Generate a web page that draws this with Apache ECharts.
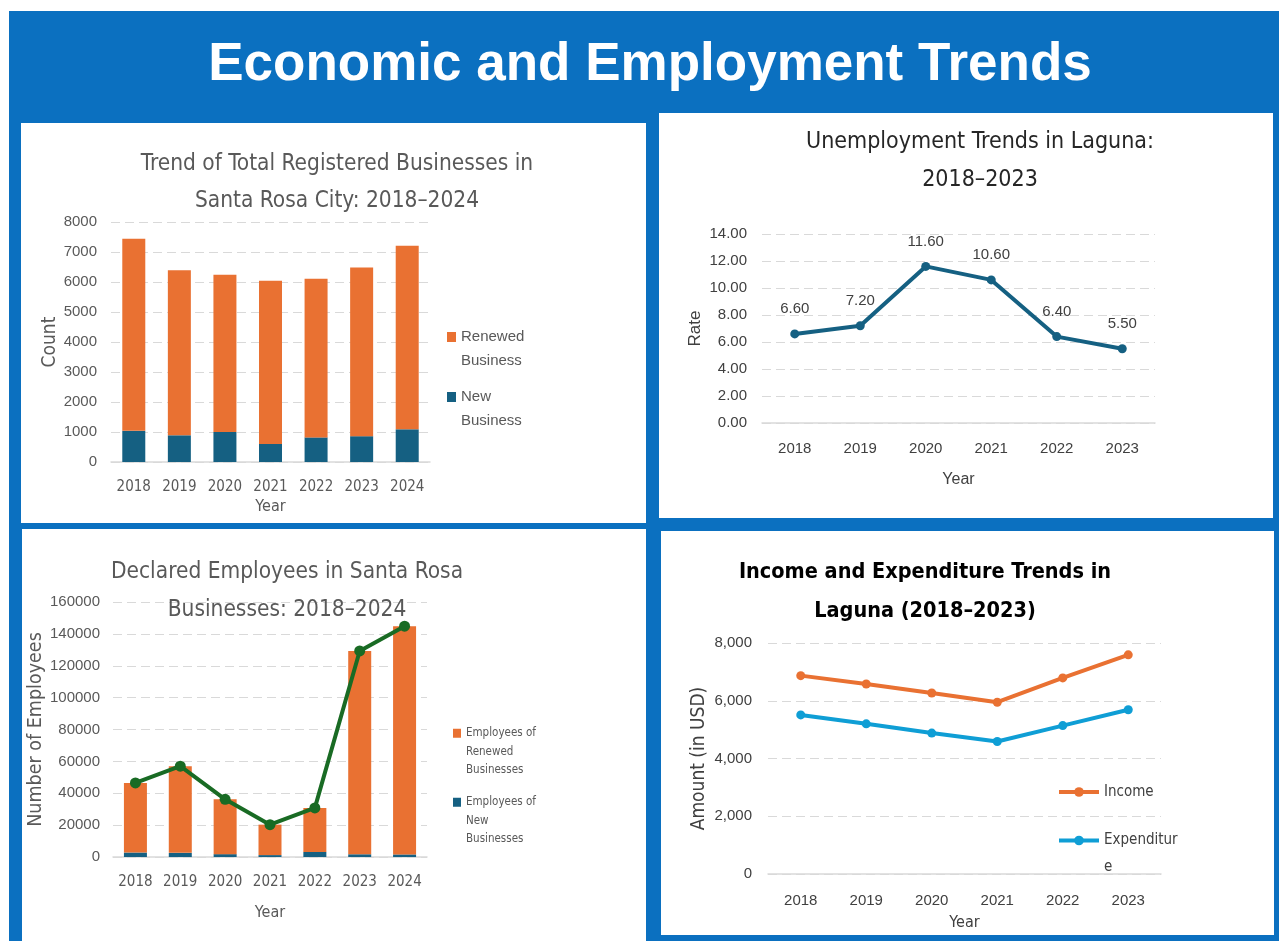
<!DOCTYPE html>
<html>
<head>
<meta charset="utf-8">
<script src="https://cdn.jsdelivr.net/npm/echarts@6/dist/echarts.min.js"></script>
<style>
  body { margin: 0; background: #ffffff; }
  #page { position: relative; width: 1279px; height: 941px; overflow: hidden; }
  .bg { position: absolute; left: 9px; top: 11px; width: 1270px; height: 930px; background: #0B70C0; }
  .panel { position: absolute; background: #ffffff; }
  #main { position: absolute; left: 0; top: 0; width: 1279px; height: 941px; }
</style>
</head>
<body>
<div id="page">
  <div class="bg"></div>
  <div class="panel" style="left:21px;top:123px;width:625px;height:400px;"></div>
  <div class="panel" style="left:659px;top:113px;width:614px;height:405px;"></div>
  <div class="panel" style="left:22px;top:529px;width:624px;height:412px;"></div>
  <div class="panel" style="left:661px;top:531px;width:613px;height:404px;"></div>
  <div id="main"></div>
</div>
<script>
// chart values
var years7 = ['2018', '2019', '2020', '2021', '2022', '2023', '2024'];
var years6 = ['2018', '2019', '2020', '2021', '2022', '2023'];

var newBiz = [1040, 890, 1000, 600, 820, 860, 1090];
var renewedBiz = [6400, 5500, 5240, 5440, 5290, 5620, 6120];

var unemployment = [6.6, 7.2, 11.6, 10.6, 6.4, 5.5];

var newEmp = [2800, 2600, 1800, 1200, 3200, 1700, 1600];
var renewedEmp = [43700, 54400, 34400, 19100, 27600, 127600, 143200];
var totalEmp = [46500, 57000, 36200, 20300, 30800, 129300, 144800];

var income = [6870, 6580, 6270, 5950, 6790, 7590];
var expenditure = [5510, 5200, 4880, 4590, 5140, 5690];

var NARROW = '"DejaVu Sans Condensed", "Liberation Sans Narrow", sans-serif';
var REG = '"Liberation Sans", Arial, sans-serif';
var ORANGE = '#E97132';
var TEAL = '#156082';
var GREEN = '#196B24';
var SKY = '#0F9ED5';

function splitLine() {
    return {show: true, lineStyle: {color: '#D9D9D9', type: [9, 5], width: 1}};
}
function baseLine() {
    return {show: true, lineStyle: {color: '#D9D9D9', width: 1.5}};
}
function plain(v) {
    return String(v);
}

var myChart = echarts.init(document.getElementById('main'), null, {renderer: 'canvas'});
var option = {
    backgroundColor: 'transparent',
    animation: false,
    title: [
        {
            text: 'Economic and Employment Trends',
            left: 645, top: 34, textAlign: 'center',
            textStyle: {color: '#ffffff', fontSize: 53, fontWeight: 'bold', fontFamily: REG}
        },
        {
            text: 'Trend of Total Registered Businesses in\nSanta Rosa City: 2018\u20132024',
            left: 332, top: 141, textAlign: 'center',
            textStyle: {color: '#595959', fontSize: 22.5, fontWeight: 'normal', fontFamily: NARROW, lineHeight: 37}
        },
        {
            text: 'Unemployment Trends in Laguna:\n2018\u20132023',
            left: 975, top: 118, textAlign: 'center',
            textStyle: {color: '#262626', fontSize: 23, fontWeight: 'normal', fontFamily: NARROW, lineHeight: 38}
        },
        {
            text: 'Declared Employees in Santa Rosa\nBusinesses: 2018\u20132024',
            left: 282, top: 548, textAlign: 'center',
            textStyle: {color: '#595959', fontSize: 22.5, fontWeight: 'normal', fontFamily: NARROW, lineHeight: 38}
        },
        {
            text: 'Income and Expenditure Trends in\nLaguna (2018\u20132023)',
            left: 920, top: 548, textAlign: 'center',
            textStyle: {color: '#000000', fontSize: 21.5, fontWeight: 'bold', fontFamily: NARROW, lineHeight: 39}
        }
    ],
    legend: [
        {
            data: ['Renewed Business'], left: 447, top: 301, orient: 'vertical', padding: 0,
            icon: 'rect', itemWidth: 9, itemHeight: 10,
            formatter: function () { return ' \nRenewed\nBusiness'; },
            textStyle: {color: '#595959', fontSize: 15, fontFamily: REG, lineHeight: 24}
        },
        {
            data: ['New Business'], left: 447, top: 361, orient: 'vertical', padding: 0,
            icon: 'rect', itemWidth: 9, itemHeight: 10,
            formatter: function () { return ' \nNew\nBusiness'; },
            textStyle: {color: '#595959', fontSize: 15, fontFamily: REG, lineHeight: 24}
        },
        {
            data: ['Employees of Renewed Businesses'], left: 453, top: 687, orient: 'vertical', padding: 0,
            icon: 'rect', itemWidth: 8, itemHeight: 9,
            formatter: function () { return ' \n \nEmployees of\nRenewed\nBusinesses'; },
            textStyle: {color: '#595959', fontSize: 11.5, fontFamily: NARROW, lineHeight: 18.5}
        },
        {
            data: ['Employees of New Businesses'], left: 453, top: 756, orient: 'vertical', padding: 0,
            icon: 'rect', itemWidth: 8, itemHeight: 9,
            formatter: function () { return ' \n \nEmployees of\nNew\nBusinesses'; },
            textStyle: {color: '#595959', fontSize: 11.5, fontFamily: NARROW, lineHeight: 18.5}
        },
        {
            data: ['Income'], left: 1057, top: 782, orient: 'vertical', padding: 0,
            itemWidth: 40, itemHeight: 12, lineStyle: {width: 4},
            textStyle: {color: '#404040', fontSize: 15, fontFamily: NARROW, lineHeight: 20}
        },
        {
            data: ['Expenditure'], left: 1057, top: 800, orient: 'vertical', padding: 0,
            itemWidth: 40, itemHeight: 12, lineStyle: {width: 4},
            formatter: function () { return ' \nExpenditur\ne'; },
            textStyle: {color: '#404040', fontSize: 15, fontFamily: NARROW, lineHeight: 27}
        }
    ],
    grid: [
        {left: 111, top: 222, width: 319, height: 240},
        {left: 762, top: 234, width: 393, height: 189},
        {left: 113, top: 602, width: 314, height: 255},
        {left: 768, top: 643, width: 393, height: 231}
    ],
    xAxis: [
        {
            gridIndex: 0, type: 'category', data: years7,
            name: 'Year', nameLocation: 'middle', nameGap: 37,
            nameTextStyle: {color: '#595959', fontSize: 16, fontFamily: NARROW},
            axisLine: baseLine(), axisTick: {show: false},
            axisLabel: {color: '#595959', fontSize: 15, fontFamily: NARROW, margin: 18, interval: 0}
        },
        {
            gridIndex: 1, type: 'category', data: years6,
            name: 'Year', nameLocation: 'middle', nameGap: 49,
            nameTextStyle: {color: '#404040', fontSize: 16, fontFamily: REG},
            axisLine: baseLine(), axisTick: {show: false},
            axisLabel: {color: '#404040', fontSize: 15, fontFamily: REG, margin: 18}
        },
        {
            gridIndex: 2, type: 'category', data: years7,
            name: 'Year', nameLocation: 'middle', nameGap: 48,
            nameTextStyle: {color: '#595959', fontSize: 16, fontFamily: NARROW},
            axisLine: baseLine(), axisTick: {show: false},
            axisLabel: {color: '#595959', fontSize: 15, fontFamily: NARROW, margin: 18, interval: 0}
        },
        {
            gridIndex: 3, type: 'category', data: years6,
            name: 'Year', nameLocation: 'middle', nameGap: 41,
            nameTextStyle: {color: '#404040', fontSize: 16, fontFamily: NARROW},
            axisLine: baseLine(), axisTick: {show: false},
            axisLabel: {color: '#404040', fontSize: 15, fontFamily: REG, margin: 19}
        }
    ],
    yAxis: [
        {
            gridIndex: 0, type: 'value', min: 0, max: 8000, interval: 1000,
            name: 'Count', nameLocation: 'middle', nameGap: 51, nameRotate: 90,
            nameTextStyle: {color: '#595959', fontSize: 19, fontFamily: NARROW},
            axisLine: {show: false}, axisTick: {show: false}, splitLine: splitLine(),
            axisLabel: {color: '#595959', fontSize: 15, fontFamily: REG, margin: 14, formatter: plain}
        },
        {
            gridIndex: 1, type: 'value', min: 0, max: 14, interval: 2,
            name: 'Rate', nameLocation: 'middle', nameGap: 58, nameRotate: 90,
            nameTextStyle: {color: '#404040', fontSize: 17, fontFamily: REG},
            axisLine: {show: false}, axisTick: {show: false}, splitLine: splitLine(),
            axisLabel: {
                color: '#404040', fontSize: 15, fontFamily: REG, margin: 15,
                formatter: function (v) { return v.toFixed(2); }
            }
        },
        {
            gridIndex: 2, type: 'value', min: 0, max: 160000, interval: 20000,
            name: 'Number of Employees', nameLocation: 'middle', nameGap: 64, nameRotate: 90,
            nameTextStyle: {color: '#595959', fontSize: 19.5, fontFamily: NARROW},
            axisLine: {show: false}, axisTick: {show: false}, splitLine: splitLine(),
            axisLabel: {color: '#595959', fontSize: 15, fontFamily: REG, margin: 13, formatter: plain}
        },
        {
            gridIndex: 3, type: 'value', min: 0, max: 8000, interval: 2000,
            name: 'Amount (in USD)', nameLocation: 'middle', nameGap: 59, nameRotate: 90,
            nameTextStyle: {color: '#404040', fontSize: 19, fontFamily: NARROW},
            axisLine: {show: false}, axisTick: {show: false}, splitLine: splitLine(),
            axisLabel: {
                color: '#404040', fontSize: 15, fontFamily: REG, margin: 16,
                formatter: function (v) { return v.toLocaleString('en-US'); }
            }
        }
    ],
    series: [
        {
            name: 'New Business', type: 'bar', stack: 'biz', xAxisIndex: 0, yAxisIndex: 0,
            data: newBiz, barWidth: 23, itemStyle: {color: TEAL}
        },
        {
            name: 'Renewed Business', type: 'bar', stack: 'biz', xAxisIndex: 0, yAxisIndex: 0,
            data: renewedBiz, barWidth: 23, itemStyle: {color: ORANGE}
        },
        {
            name: 'Unemployment Rate', type: 'line', xAxisIndex: 1, yAxisIndex: 1,
            data: unemployment, symbol: 'circle', symbolSize: 9,
            lineStyle: {color: TEAL, width: 4}, itemStyle: {color: TEAL},
            label: {
                show: true, position: 'top', distance: 13,
                color: '#404040', fontSize: 15, fontFamily: REG,
                formatter: function (p) { return p.value.toFixed(2); }
            }
        },
        {
            name: 'Employees of New Businesses', type: 'bar', stack: 'emp', xAxisIndex: 2, yAxisIndex: 2,
            data: newEmp, barWidth: 23, itemStyle: {color: TEAL}
        },
        {
            name: 'Employees of Renewed Businesses', type: 'bar', stack: 'emp', xAxisIndex: 2, yAxisIndex: 2,
            data: renewedEmp, barWidth: 23, itemStyle: {color: ORANGE}
        },
        {
            name: 'Total Employees', type: 'line', xAxisIndex: 2, yAxisIndex: 2,
            data: totalEmp, symbol: 'circle', symbolSize: 11,
            lineStyle: {color: GREEN, width: 4}, itemStyle: {color: GREEN}
        },
        {
            name: 'Income', type: 'line', xAxisIndex: 3, yAxisIndex: 3,
            data: income, symbol: 'circle', symbolSize: 9,
            lineStyle: {color: ORANGE, width: 4}, itemStyle: {color: ORANGE}
        },
        {
            name: 'Expenditure', type: 'line', xAxisIndex: 3, yAxisIndex: 3,
            data: expenditure, symbol: 'circle', symbolSize: 9,
            lineStyle: {color: SKY, width: 4}, itemStyle: {color: SKY}
        }
    ]
};
myChart.setOption(option);
</script>
</body>
</html>
